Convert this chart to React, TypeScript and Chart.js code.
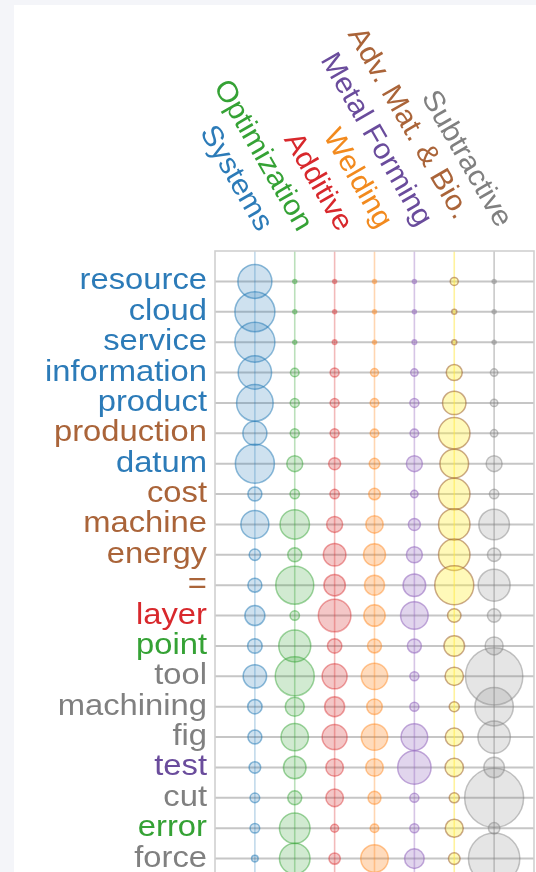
import React, { useEffect, useRef } from "react";
import { Chart, registerables } from "chart.js";

Chart.register(...registerables);

// ---- data ----
const words = [
  "resource", "cloud", "service", "information", "product", "production", "datum",
  "cost", "machine", "energy", "=", "layer", "point", "tool", "machining", "fig",
  "test", "cut", "error", "force",
];
// colour group of each word label (index into topicTextColors)
const wordGroup = [0, 0, 0, 0, 0, 5, 0, 5, 5, 5, 5, 2, 1, 6, 6, 6, 4, 6, 1, 6];

const topics = [
  "Systems", "Optimization", "Additive", "Welding", "Metal Forming",
  "Adv. Mat. & Bio.", "Subtractive",
];

// bubble sizes (radius) per topic, one per word
const systemsSizes = [17, 20, 20, 16.7, 18.3, 12, 19.5, 7, 14, 5.7, 7, 10, 7.3, 11.7, 7.2, 7, 5.8, 4.8, 4.8, 3.3];
const optimizationSizes = [2, 2, 2, 4.3, 4.5, 4.5, 8, 4.7, 14.7, 7, 19, 4.7, 16, 19.5, 9.5, 13.7, 11.3, 7, 15.3, 15.3];
const additiveSizes = [2, 2, 2.3, 4.5, 4.5, 4.5, 6, 4.7, 8, 11.3, 10.7, 16.3, 7.2, 12.5, 10, 12.5, 8.8, 8.8, 4, 5.7];
const weldingSizes = [2, 2, 2, 4, 4.3, 4.3, 5.3, 5.8, 8.7, 11, 10, 10.7, 7, 13.2, 7.8, 13.2, 8.8, 6.5, 4.3, 13.8];
const metalFormingSizes = [2, 2, 2.3, 3.7, 4.5, 4.3, 8, 3.7, 6, 8, 11.3, 13.8, 7, 4.5, 4.5, 13.3, 16.7, 4.5, 4.5, 9.8];
const advMatBioSizes = [4, 2.5, 2.5, 8, 11.7, 15.7, 14.3, 15.7, 15.7, 15.7, 19.5, 6.7, 10.3, 9.2, 5, 9, 9.2, 5, 9, 5.8];
const subtractiveSizes = [2, 2, 2, 3.7, 3.7, 3.7, 8, 4.7, 15.3, 6.7, 16, 6.7, 9, 28.7, 19.2, 16.2, 10.3, 29.5, 5.7, 25.7];

const topicSizes = [
  systemsSizes, optimizationSizes, additiveSizes, weldingSizes,
  metalFormingSizes, advMatBioSizes, subtractiveSizes,
];

// ---- styles ----
const topicTextColors = ["#2c7bb8", "#35a235", "#d8282c", "#f28a1e", "#6a4c9c", "#aa6439", "#808080"];
const bubbleFills = [
  "rgba(31,119,180,0.22)", "rgba(44,160,44,0.22)", "rgba(214,39,40,0.26)",
  "rgba(255,127,14,0.28)", "rgba(148,103,189,0.28)", "rgba(255,238,60,0.36)",
  "rgba(127,127,127,0.2)",
];
const bubbleBorders = [
  "rgba(31,119,180,0.5)", "rgba(44,160,44,0.45)", "rgba(214,39,40,0.42)",
  "rgba(255,127,14,0.42)", "rgba(148,103,189,0.55)", "rgba(150,85,35,0.5)",
  "rgba(127,127,127,0.45)",
];
const stemColors = [
  "rgba(31,119,180,0.28)", "rgba(44,160,44,0.32)", "rgba(214,39,40,0.32)",
  "rgba(255,127,14,0.32)", "rgba(148,103,189,0.38)", "rgba(255,230,60,0.5)",
  "rgba(127,127,127,0.42)",
];
const topicLabelDx = [3, 3, 3, 3, 3, 1, 3];
const topicLabelDy = [0, 0, 0, -3, -5, -12, -4];
const FONT = '"Liberation Sans", Arial, Helvetica, sans-serif';

const matrixPlugin = {
  id: "matrixDecor",
  beforeDatasetsDraw(chart: any) {
    const { ctx, chartArea: a, scales } = chart;
    const xs = scales.x;
    const ys = scales.y;
    ctx.save();
    ctx.lineWidth = 2;
    ctx.strokeStyle = "rgb(198,198,198)";
    words.forEach((_, j) => {
      const py = ys.getPixelForValue(j);
      ctx.beginPath();
      ctx.moveTo(a.left, py);
      ctx.lineTo(a.right, py);
      ctx.stroke();
    });
    ctx.lineWidth = 1.6;
    topics.forEach((_, i) => {
      const px = xs.getPixelForValue(i);
      ctx.strokeStyle = stemColors[i];
      ctx.beginPath();
      ctx.moveTo(px, a.top);
      ctx.lineTo(px, a.bottom);
      ctx.stroke();
    });
    ctx.strokeStyle = "rgb(208,208,208)";
    ctx.lineWidth = 1.6;
    ctx.strokeRect(a.left, a.top, a.right - a.left, a.bottom - a.top);
    ctx.restore();
  },
  afterDraw(chart: any) {
    const { ctx, chartArea: a, scales } = chart;
    const xs = scales.x;
    const ys = scales.y;
    ctx.save();
    ctx.font = `29px ${FONT}`;
    // row labels
    ctx.textAlign = "right";
    ctx.textBaseline = "middle";
    words.forEach((w, j) => {
      ctx.save();
      ctx.translate(a.left - 8, ys.getPixelForValue(j));
      ctx.scale(1.13, 1);
      ctx.fillStyle = topicTextColors[wordGroup[j]];
      ctx.fillText(w, 0, 0);
      ctx.restore();
    });
    // column labels
    ctx.textAlign = "right";
    ctx.textBaseline = "alphabetic";
    topics.forEach((t, i) => {
      ctx.save();
      ctx.translate(xs.getPixelForValue(i) + topicLabelDx[i], a.top - 18 + topicLabelDy[i]);
      ctx.rotate((60 * Math.PI) / 180);
      ctx.scale(1.05, 1);
      ctx.fillStyle = topicTextColors[i];
      ctx.fillText(t, 0, 0);
      ctx.restore();
    });
    ctx.restore();
  },
};

export default function App() {
  const ref = useRef<HTMLCanvasElement>(null);
  useEffect(() => {
    document.body.style.margin = "0";
    if (!ref.current) return;
    const chart = new Chart(ref.current, {
      type: "bubble",
      data: {
        datasets: topics.map((t, i) => ({
          label: t,
          data: words.map((_, j) => ({ x: i, y: j, r: topicSizes[i][j] })),
          backgroundColor: bubbleFills[i],
          borderColor: bubbleBorders[i],
          borderWidth: 1.5,
        })),
      },
      options: {
        responsive: false,
        devicePixelRatio: 1,
        animation: false,
        layout: { autoPadding: false, padding: { left: 215, top: 251, right: 2, bottom: 11 } },
        plugins: { legend: { display: false }, tooltip: { enabled: false } },
        scales: {
          x: { type: "linear", min: -1, max: 7, display: false },
          y: { type: "linear", min: -1, max: 20, reverse: true, display: false },
        },
      },
      plugins: [matrixPlugin],
    });
    return () => chart.destroy();
  }, []);
  return (
    <div style={{ position: "relative", width: 536, height: 872, overflow: "hidden", background: "#f4f5f9" }}>
      <div style={{ position: "absolute", left: 14, top: 5, right: 0, bottom: 0, background: "#ffffff" }} />
      <canvas ref={ref} width={536} height={900} style={{ position: "absolute", left: 0, top: 0 }} />
    </div>
  );
}
